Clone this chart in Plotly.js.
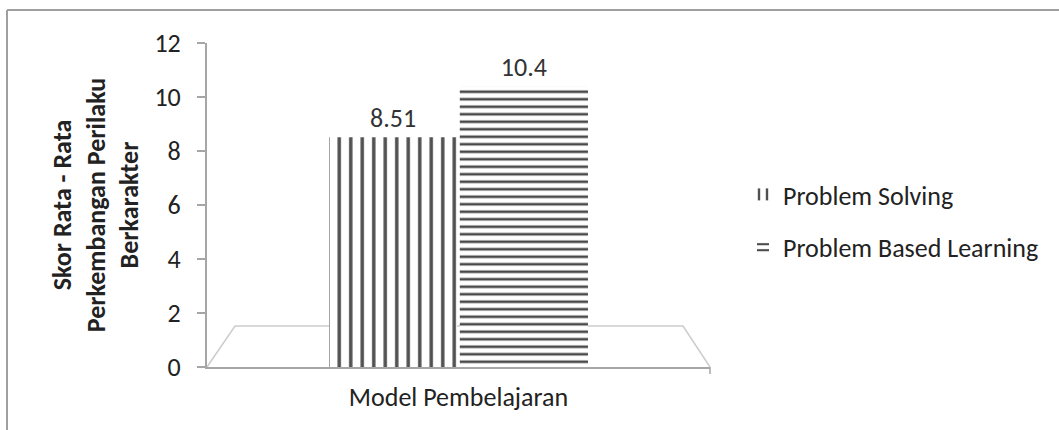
<!DOCTYPE html>
<html>
<head>
<meta charset="utf-8">
<script src="https://cdn.plot.ly/plotly-3.0.1.min.js"></script>
<style>html,body{margin:0;padding:0;background:#fff;}#chart{width:1059px;height:430px;}</style>
</head>
<body>
<div id="chart"></div>
<script>
// Data
var categories = ["Model Pembelajaran"];
var seriesNames = ["Problem Solving", "Problem Based Learning"];
var problemSolving = [8.51];
var problemBasedLearning = [10.4];
var valueLabels = [["8.51"], ["10.4"]];
var yTicks = [0, 2, 4, 6, 8, 10, 12];

var FONT = "Carlito, Lato, 'Open Sans', sans-serif";
var FS = 26;

var traces = [
  {
    type: "bar", name: seriesNames[0], x: categories, y: problemSolving,
    text: valueLabels[0], textposition: "outside", cliponaxis: false,
    textfont: {family: FONT, size: FS, color: "#333"},
    legendgroup: "a",
    marker: {color: "#ffffff", line: {width: 0},
      pattern: {shape: "|", fgcolor: "#505050", bgcolor: "#ffffff", size: 11.5, solidity: 0.3, fillmode: "replace"}},
    hoverinfo: "none"
  },
  {
    type: "bar", name: seriesNames[1], x: categories, y: problemBasedLearning,
    text: valueLabels[1], textposition: "outside", cliponaxis: false,
    textfont: {family: FONT, size: FS, color: "#333"},
    legendgroup: "b",
    marker: {color: "#ffffff", line: {width: 0},
      pattern: {shape: "-", fgcolor: "#4a4a4a", bgcolor: "#ffffff", size: 7.5, solidity: 0.35, fillmode: "replace"}},
    hoverinfo: "none"
  }
];

var L = 207, R = 710, T = 43, B = 367;
function px(x){ return (x - L) / (R - L); }
function py(y){ return (B - y) / (B - T); }

var layout = {
  width: 1059, height: 430,
  margin: {l: L, r: 1059 - R, t: T, b: 430 - B, pad: 0},
  paper_bgcolor: "#ffffff", plot_bgcolor: "rgba(0,0,0,0)",
  font: {family: FONT, size: FS, color: "#222"},
  barmode: "group", bargap: 0.48, bargroupgap: 0.02,
  showlegend: true,
  legend: {x: px(743), y: py(171), xanchor: "left", yanchor: "top",
    font: {family: FONT, size: FS, color: "#222"},
    traceorder: "grouped", tracegroupgap: 16, bgcolor: "rgba(0,0,0,0)"},
  xaxis: {
    showticklabels: false, showgrid: false, zeroline: false,
    showline: true, linecolor: "#a6a6a6", linewidth: 2,
    ticks: "", fixedrange: true,
    title: {text: "Model Pembelajaran", font: {family: FONT, size: FS, color: "#222"}, standoff: 20}
  },
  yaxis: {
    range: [0, 12], tickvals: yTicks, ticktext: yTicks.map(String),
    showgrid: false, zeroline: false,
    showline: true, linecolor: "#a6a6a6", linewidth: 2,
    ticks: "outside", ticklen: 8, tickcolor: "#a6a6a6", tickwidth: 1.5,
    ticklabelstandoff: 11,
    tickfont: {family: FONT, size: FS, color: "#222"},
    fixedrange: true,
    title: {text: "<b>Skor Rata - Rata<br>Perkembangan Perilaku<br>Berkarakter</b>",
      font: {family: FONT, size: FS, color: "#222"}, standoff: 8}
  },
  shapes: [
    // chart outer border (top & left visible)
    {type: "line", xref: "paper", yref: "paper", x0: px(7), x1: px(1070), y0: py(10), y1: py(10), line: {color: "#a0a0a0", width: 2}},
    {type: "line", xref: "paper", yref: "paper", x0: px(7), x1: px(7), y0: py(10), y1: py(440), line: {color: "#a0a0a0", width: 2}},
    // 3D floor outline
    {type: "path", xref: "paper", yref: "paper", layer: "below",
      path: "M " + px(L) + "," + py(B) + " L " + px(235) + "," + py(326) + " L " + px(683) + "," + py(326) + " L " + px(R) + "," + py(B),
      line: {color: "#cccccc", width: 1.5}, fillcolor: "rgba(0,0,0,0)"},
    // right end tick
    {type: "line", xref: "paper", yref: "paper", x0: 1, x1: 1, y0: 0, y1: py(374), line: {color: "#a6a6a6", width: 1.5}}
  ]
};

Plotly.newPlot("chart", traces, layout, {displayModeBar: false, staticPlot: true});
</script>
</body>
</html>
